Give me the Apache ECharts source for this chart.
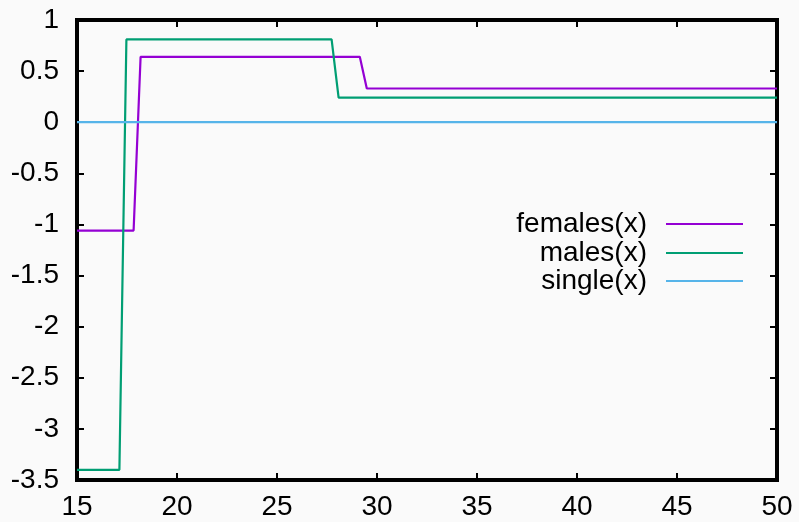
<!DOCTYPE html>
<html>
<head>
<meta charset="utf-8">
<script src="https://cdn.jsdelivr.net/npm/echarts@6/dist/echarts.min.js"></script>
<style>
  html, body { margin: 0; padding: 0; background: #fafafa; }
  #chart { width: 799px; height: 522px; }
</style>
</head>
<body>
<div id="chart"></div>
<script>
// vertices of each step curve
const femalesX = [15, 17.83, 18.18, 29.14, 29.49, 50];
const femalesY = [-1.06, -1.06, 0.64, 0.64, 0.33, 0.33];
const malesX = [15, 17.12, 17.47, 27.73, 28.08, 50];
const malesY = [-3.4, -3.4, 0.81, 0.81, 0.24, 0.24];
const singleX = [15, 50];
const singleY = [0, 0];

const seriesNames = ['females(x)', 'males(x)', 'single(x)'];
const seriesColors = ['#9400d3', '#009e73', '#56b4e9'];
const legendTops = [210, 239, 267];

// x tick positions (bottom and mirrored on top)
const xTicks = [15, 20, 25, 30, 35, 40, 45, 50];

const FONT = '"Liberation Sans", Arial, sans-serif';
const TICK_LEN = 7;

function pairs(xs, ys) {
  return xs.map((x, i) => [x, ys[i]]);
}
const seriesData = [pairs(femalesX, femalesY), pairs(malesX, malesY), pairs(singleX, singleY)];

const chart = echarts.init(document.getElementById('chart'));

// gnuplot style frame: thick border, ticks inside on all four sides
function frameAxis(kind, position, withLabels) {
  const ax = {
    type: 'value',
    position: position,
    axisLine: { show: true, onZero: false, lineStyle: { color: '#000', width: 4, cap: 'square' } },
    axisTick: { show: true, inside: true, length: TICK_LEN, lineStyle: { color: '#000', width: 2 } },
    splitLine: { show: false },
    axisLabel: withLabels
      ? { color: '#000', fontSize: 28, fontFamily: FONT, margin: kind === 'x' ? 13 : 18 }
      : { show: false }
  };
  if (kind === 'x') {
    ax.min = 15; ax.max = 50; ax.interval = 5;
  } else {
    ax.min = -3.5; ax.max = 1; ax.interval = 0.5;
  }
  return ax;
}

const option = {
  backgroundColor: '#fafafa',
  animation: false,
  grid: { left: 77, right: 22, top: 20, bottom: 42 },
  xAxis: [frameAxis('x', 'bottom', true), frameAxis('x', 'top', false)],
  yAxis: [frameAxis('y', 'left', true), frameAxis('y', 'right', false)],
  legend: seriesNames.map((name, i) => ({
    data: [name],
    right: 56,
    top: legendTops[i],
    orient: 'vertical',
    align: 'right',
    padding: 0,
    icon: 'rect',
    itemWidth: 77,
    itemHeight: 2,
    selectedMode: false,
    textStyle: { color: '#000', fontSize: 28, fontFamily: FONT, lineHeight: 28, padding: [0, 14, 0, 0] }
  })),
  series: seriesNames.map((name, i) => ({
    name: name,
    type: 'line',
    data: seriesData[i],
    showSymbol: false,
    symbol: 'none',
    lineStyle: { color: seriesColors[i], width: 2.2 },
    itemStyle: { color: seriesColors[i] }
  }))
};

chart.setOption(option);

// the native x ticks did not show up in earlier runs, so add them as
// graphic lines placed through the axis scales
const yBottom = chart.convertToPixel({ yAxisIndex: 0 }, -3.5);
const yTop = chart.convertToPixel({ yAxisIndex: 0 }, 1);
const tickStyle = { stroke: '#000', lineWidth: 2 };
const tickGraphics = [];
xTicks.forEach(v => {
  const x = chart.convertToPixel({ xAxisIndex: 0 }, v);
  tickGraphics.push({ type: 'line', z: 100, shape: { x1: x, y1: yBottom, x2: x, y2: yBottom - TICK_LEN }, style: tickStyle });
  tickGraphics.push({ type: 'line', z: 100, shape: { x1: x, y1: yTop, x2: x, y2: yTop + TICK_LEN }, style: tickStyle });
});
chart.setOption({ graphic: tickGraphics });
</script>
</body>
</html>
